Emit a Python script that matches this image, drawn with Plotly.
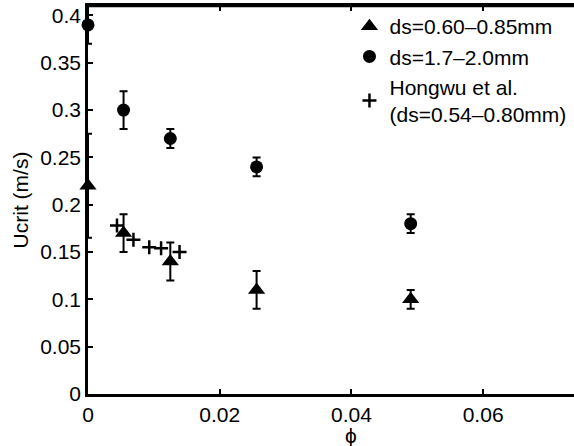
import plotly.graph_objects as go

# ds = 0.60-0.85 mm (triangles)
phi_small = [0.0, 0.0054, 0.0125, 0.0256, 0.049]
u_small = [0.22, 0.17, 0.14, 0.11, 0.10]
err_small = [0.055, 0.02, 0.02, 0.02, 0.01]

# ds = 1.7-2.0 mm (circles)
phi_large = [0.0, 0.0054, 0.0125, 0.0256, 0.049]
u_large = [0.39, 0.30, 0.27, 0.24, 0.18]
err_large = [0.02, 0.02, 0.01, 0.01, 0.01]

# Hongwu et al. (pluses)
phi_hongwu = [0.0044, 0.0069, 0.0093, 0.0111, 0.0139]
u_hongwu = [0.178, 0.163, 0.155, 0.154, 0.150]

x_ticks = [0, 0.02, 0.04, 0.06]
x_ticklabels = ["0", "0.02", "0.04", "0.06"]
y_ticks = [0, 0.05, 0.1, 0.15, 0.2, 0.25, 0.3, 0.35, 0.4]
y_ticklabels = ["0", "0.05", "0.1", "0.15", "0.2", "0.25", "0.3", "0.35", "0.4"]

FONT = "Liberation Sans, Arial, Helvetica, sans-serif"
err_style = dict(type="data", visible=True, color="black", thickness=2, width=4)

fig = go.Figure()
fig.add_trace(go.Scatter(
    x=phi_small, y=u_small, mode="markers", name="ds=0.60\u20130.85mm",
    marker=dict(symbol="triangle-up", size=15, color="black"),
    error_y=dict(array=err_small, **err_style), cliponaxis=False))
fig.add_trace(go.Scatter(
    x=phi_large, y=u_large, mode="markers", name="ds=1.7\u20132.0mm",
    marker=dict(symbol="circle", size=13, color="black"),
    error_y=dict(array=err_large, **err_style), cliponaxis=False))
fig.add_trace(go.Scatter(
    x=phi_hongwu, y=u_hongwu, mode="markers",
    name="Hongwu et al.<br>(ds=0.54\u20130.80mm)",
    marker=dict(symbol="cross-thin", size=10, color="black",
                line=dict(width=2.5, color="black")),
    cliponaxis=False))

fig.add_annotation(x=0.04, xref="x", y=-0.108, yref="paper",
                   text="\u03d5", showarrow=False, yanchor="middle",
                   font=dict(family=FONT, size=21, color="black"))

# top frame line of the axes box
fig.add_shape(type="line", xref="paper", yref="paper", x0=0, x1=1, y0=1, y1=1,
              line=dict(color="black", width=2.5), layer="above")

fig.update_layout(
    width=574, height=446,
    margin=dict(l=88, r=0, t=6, b=52),
    paper_bgcolor="white", plot_bgcolor="white",
    font=dict(family=FONT, size=21, color="black"),
    showlegend=True,
    legend=dict(x=0.538, y=1.0, xanchor="left", yanchor="top",
                bgcolor="rgba(0,0,0,0)", font=dict(size=21),
                tracegroupgap=0, itemwidth=30),
    xaxis=dict(range=[0, 0.0738], tickvals=x_ticks, ticktext=x_ticklabels,
               showgrid=False, zeroline=False, showline=True, linecolor="black",
               linewidth=2.5, mirror="ticks", ticks="inside", ticklen=5,
               tickwidth=1.5, tickcolor="black"),
    yaxis=dict(range=[0, 0.41], tickvals=y_ticks, ticktext=y_ticklabels,
               showgrid=False, zeroline=False, showline=True, linecolor="black",
               linewidth=2.5, ticks="inside", ticklen=5, tickwidth=1.5,
               tickcolor="black",
               title=dict(text="Ucrit (m/s)", font=dict(size=21), standoff=6)),
)

fig.write_html(
    "out.html",
    config={"displayModeBar": False},
    post_script="document.body.style.margin='0';document.body.style.overflow='hidden';",
)
